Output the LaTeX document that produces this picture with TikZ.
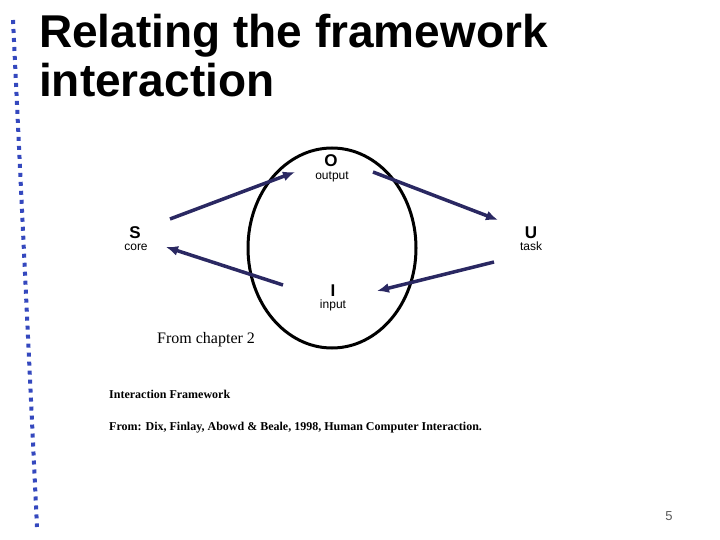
\documentclass[tikz,border=0pt]{standalone}
\usepackage{fontspec}
\setmainfont{Liberation Serif}
\setsansfont{Liberation Sans}
\usetikzlibrary{arrows.meta}
\definecolor{barblue}{RGB}{52,72,190}
\definecolor{navy}{RGB}{42,40,98}

\begin{document}
\begin{tikzpicture}[x=1pt,y=-1pt,
	big/.style={font=\sffamily\bfseries\fontsize{17}{17}\selectfont, anchor=base, inner sep=0pt},
	small/.style={font=\sffamily\fontsize{12}{12}\selectfont, anchor=base, inner sep=0pt},
	flow/.style={navy, line width=3.5pt, -{Latex[length=12pt,width=10pt]}},
	ref/.style={font=\bfseries\fontsize{12}{12}\selectfont, anchor=base west, inner sep=0pt}]
	\useasboundingbox (0,0) rectangle (720,540);
	% slide bar on the left
	\draw[barblue, line width=4pt, dash pattern=on 4pt off 5pt] (13,20) -- (37,527);
	% title
	\node[anchor=base west, inner sep=0pt, align=left, font=\sffamily\bfseries\fontsize{46}{49}\selectfont] (title) at (39,97) {Relating the framework\\interaction};
	% the framework
	\draw[line width=3pt] (332,248) ellipse (84 and 100);
	\node[big] (o) at (331,167) {O};
	\node[small] (out) at (332,180) {output};
	\node[big] (s) at (135,239) {S};
	\node[small] (core) at (136,251) {core};
	\node[big] (u) at (531,239) {U};
	\node[small] (task) at (531,251) {task};
	\node[big] (i) at (333,296) {I};
	\node[small] (inp) at (333,308) {input};
	\coordinate (s1) at (170,219);
	\coordinate (o1) at (295,172);
	\coordinate (o2) at (373,172);
	\coordinate (u1) at (498,220);
	\coordinate (u2) at (494,262);
	\coordinate (i1) at (377,291);
	\coordinate (i2) at (283,285);
	\coordinate (s2) at (166,247);
	\draw[flow] (s1) -- (o1);
	\draw[flow] (o2) -- (u1);
	\draw[flow] (u2) -- (i1);
	\draw[flow] (i2) -- (s2);
	% sources
	\node[anchor=base west, inner sep=0pt, font=\fontsize{16}{16}\selectfont] (chap) at (157,343) {From chapter 2};
	\node[ref] (fw) at (109,398) {Interaction Framework};
	\node[ref] (src) at (109,430) {From: Dix, Finlay, Abowd \& Beale, 1998, Human Computer Interaction.};
	\node[anchor=base, inner sep=0pt, gray!70!black, font=\sffamily\fontsize{13}{13}\selectfont] (page) at (669,520) {5};
\end{tikzpicture}
\end{document}
